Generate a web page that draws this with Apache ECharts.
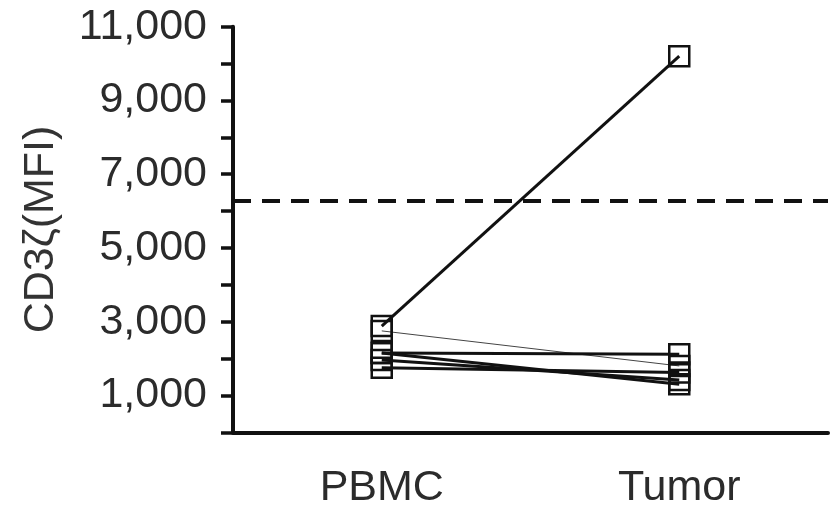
<!DOCTYPE html>
<html>
<head>
<meta charset="utf-8">
<script src="https://cdn.jsdelivr.net/npm/echarts@6/dist/echarts.min.js"></script>
<style>
  html, body { margin: 0; padding: 0; background: #fff; }
  #chart { width: 833px; height: 510px; }
</style>
</head>
<body>
<div id="chart"></div>
<script>
// groups on the x axis
const groups = ['PBMC', 'Tumor']
// paired values per subject
const pbmc = [2880, 2750, 2150, 2150, 1960, 1750]
const tumor = [10200, 1800, 2120, 1300, 1420, 1620]
// line weight per subject (the second one is drawn thin)
const lineWidths = [3, 1, 3, 3, 3, 3]
// dashed reference level
const cutoff = 6280

const font = 'Liberation Sans, Arial, sans-serif'
const textColor = '#2b2b2b'

const chart = echarts.init(document.getElementById('chart'))

const series = pbmc.map((v, i) => ({
  name: 'subject' + (i + 1),
  type: 'line',
  data: [v, tumor[i]],
  symbol: 'rect',
  symbolSize: 20,
  itemStyle: { color: 'rgba(0,0,0,0)', borderColor: '#111', borderWidth: 2.5 },
  lineStyle: { color: i === 1 ? '#444' : '#111', width: lineWidths[i] },
  emphasis: { disabled: true },
  silent: true,
  z: 3
}))

series[0].markLine = {
  silent: true,
  symbol: 'none',
  label: { show: false },
  lineStyle: { color: '#111', width: 4, type: [18, 11] },
  data: [{ yAxis: cutoff }]
}

const option = {
  animation: false,
  grid: {
    left: 233,
    right: 5,
    top: 26.7,
    bottom: 77.7
  },
  xAxis: {
    type: 'category',
    data: groups,
    boundaryGap: true,
    axisLine: { lineStyle: { color: '#111', width: 4 } },
    axisTick: { alignWithLabel: true, length: 7, lineStyle: { color: '#111', width: 3 } },
    axisLabel: { fontSize: 43, color: textColor, fontFamily: font, margin: 34 }
  },
  yAxis: {
    type: 'value',
    min: 0,
    max: 11000,
    interval: 1000,
    name: 'CD3ζ(MFI)',
    nameLocation: 'middle',
    nameRotate: 90,
    nameGap: 170,
    nameTextStyle: { fontSize: 43, color: '#333', fontFamily: font },
    axisLine: { show: true, lineStyle: { color: '#111', width: 4 } },
    axisTick: { show: true, length: 12, lineStyle: { color: '#111', width: 3.5 } },
    splitLine: { show: false },
    axisLabel: {
      fontSize: 43,
      color: textColor,
      fontFamily: font,
      margin: 26,
      formatter: v => (v / 1000) % 2 === 1 ? v.toLocaleString('en-US') : ''
    }
  },
  series: series
}

chart.setOption(option)
</script>
</body>
</html>
